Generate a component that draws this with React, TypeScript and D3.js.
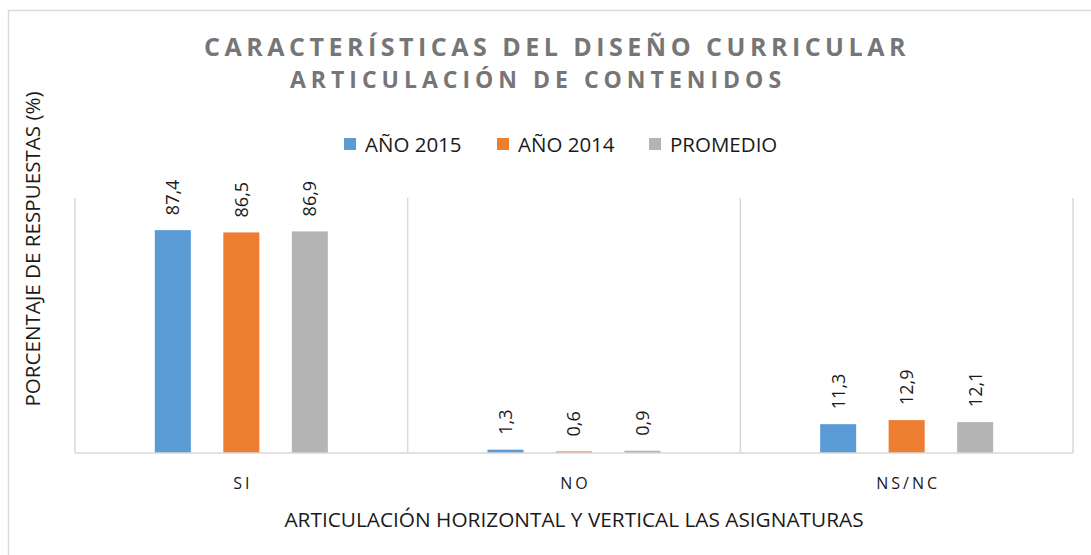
import React from "react";
import * as d3 from "d3";

const categories = ["SI", "NO", "NS/NC"];
const seriesNames = ["AÑO 2015", "AÑO 2014", "PROMEDIO"];
const values2015 = [87.4, 1.3, 11.3];
const values2014 = [86.5, 0.6, 12.9];
const valuesProm = [86.9, 0.9, 12.1];
const seriesColors = ["#5b9bd5", "#ed7d31", "#b4b4b4"];
const labels2015 = ["87,4", "1,3", "11,3"];
const labels2014 = ["86,5", "0,6", "12,9"];
const labelsProm = ["86,9", "0,9", "12,1"];

const W = 1091;
const H = 555;
const FONT = "'Open Sans', sans-serif";

export default function App() {
  const plot = { left: 75, right: 1073, top: 198, bottom: 453 };
  const x = d3.scaleBand<string>().domain(categories).range([plot.left, plot.right]).padding(0);
  const inner = d3
    .scaleBand<string>()
    .domain(seriesNames)
    .range([0, x.bandwidth()])
    .paddingInner(0.474)
    .paddingOuter(1.165);
  const y = d3.scaleLinear().domain([0, 100]).range([plot.bottom, plot.top]);

  const series = [
    { name: seriesNames[0], values: values2015, labels: labels2015, color: seriesColors[0] },
    { name: seriesNames[1], values: values2014, labels: labels2014, color: seriesColors[1] },
    { name: seriesNames[2], values: valuesProm, labels: labelsProm, color: seriesColors[2] },
  ];

  const boundaries = [...categories.map((c) => x(c)!), plot.right];
  const legendX = [344, 497, 649];

  return (
    <svg
      width={W}
      height={H}
      style={{ position: "absolute", left: 0, top: 0, background: "#fff" }}
      fontFamily={FONT}
    >
      <rect x={8.5} y={10.5} width={1200} height={700} fill="#fff" stroke="#d9d9d9" strokeWidth={1.5} />
      <text x={557} y={56} textAnchor="middle" fontSize={25} fontWeight="bold" fill="#767676" letterSpacing={4.5}>
        CARACTERÍSTICAS DEL DISEÑO CURRICULAR
      </text>
      <text x={538} y={88} textAnchor="middle" fontSize={23} fontWeight="bold" fill="#767676" letterSpacing={5}>
        ARTICULACIÓN DE CONTENIDOS
      </text>
      {series.map((s, i) => (
        <g key={s.name}>
          <rect x={legendX[i]} y={138} width={12} height={12} fill={s.color} />
          <text x={legendX[i] + 21} y={152} fontSize={20.5} fill="#1a1a1a">
            {s.name}
          </text>
        </g>
      ))}
      {boundaries.map((bx, i) => (
        <line key={i} x1={bx} x2={bx} y1={plot.top} y2={plot.bottom} stroke="#d9d9d9" strokeWidth={1.5} />
      ))}
      {series.map((s) =>
        categories.map((c, ci) => {
          const bx = x(c)! + inner(s.name)!;
          const by = y(s.values[ci]);
          const cx = bx + inner.bandwidth() / 2;
          return (
            <g key={s.name + c}>
              <rect x={bx} y={by} width={inner.bandwidth()} height={plot.bottom - by} fill={s.color} />
              <text
                transform={`translate(${cx + 6.4},${by - 15}) rotate(-90)`}
                fontSize={18}
                fill="#1a1a1a"
              >
                {s.labels[ci]}
              </text>
            </g>
          );
        })
      )}
      <line x1={plot.left} x2={plot.right} y1={plot.bottom} y2={plot.bottom} stroke="#d9d9d9" strokeWidth={1.5} />
      {categories.map((c) => (
        <text
          key={c}
          x={x(c)! + x.bandwidth() / 2 + 1.5}
          y={489}
          textAnchor="middle"
          fontSize={16}
          fill="#1a1a1a"
          letterSpacing={3}
        >
          {c}
        </text>
      ))}
      <text x={574} y={527} textAnchor="middle" fontSize={20.8} fill="#1a1a1a">
        ARTICULACIÓN HORIZONTAL Y VERTICAL LAS ASIGNATURAS
      </text>
      <text transform="translate(40,249) rotate(-90)" textAnchor="middle" fontSize={20.6} fill="#1a1a1a">
        PORCENTAJE DE RESPUESTAS (%)
      </text>
    </svg>
  );
}
